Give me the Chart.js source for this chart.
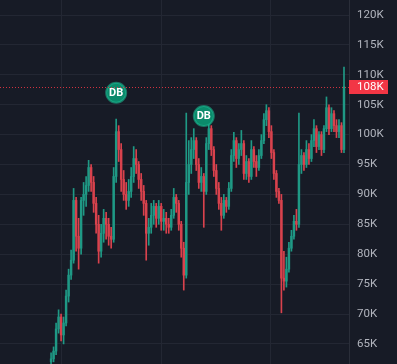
<!DOCTYPE html>
<html>
<head>
<meta charset="utf-8">
<script src="https://cdn.jsdelivr.net/npm/chart.js@4.4.1/dist/chart.umd.min.js"></script>
<style>
  html, body { margin: 0; padding: 0; background: #171b26; }
  #wrap { width: 397px; height: 364px; position: relative; }
</style>
</head>
<body>
<div id="wrap"><canvas id="priceChart"></canvas></div>
<script>
// candle values in thousands (K)
const opens = [
  62.0, 62.5, 63.8, 67.5, 69.5, 66.5, 68.5, 73.0, 76.5, 79.0,
  89.0, 83.0, 81.0, 89.0, 90.0, 91.5, 94.5, 92.0, 88.5, 85.0,
  80.5, 83.5, 86.0, 85.0, 83.0, 82.5, 93.0, 100.5, 97.5, 92.5,
  90.0, 89.0, 90.5, 93.0, 96.0, 95.0, 92.5, 90.5, 88.5, 83.5,
  84.5, 86.5, 88.0, 86.0, 88.0, 85.5, 86.0, 85.0, 84.5, 86.5,
  89.5, 88.5, 85.0, 81.0, 76.5, 92.0, 95.0, 97.5, 99.0, 95.0,
  92.0, 93.0, 90.5, 98.5, 101.0, 97.5, 94.0, 91.0, 88.5, 86.5,
  89.0, 88.0, 91.0, 96.5, 99.0, 96.0, 97.5, 98.5, 93.5, 95.5,
  93.0, 97.5, 95.5, 94.5, 96.5, 99.0, 102.5, 104.0, 100.5, 97.0,
  93.5, 90.5, 89.0, 76.0, 75.5, 77.5, 81.0, 83.0, 85.5, 85.0,
  95.0, 96.5, 95.0, 97.5, 96.0, 99.0, 101.0, 98.0, 100.0, 97.5,
  101.0, 104.5, 101.0, 103.5, 101.5, 100.5, 101.5, 97.5
];
const highs = [
  63.5, 64.5, 68.5, 70.7, 70.0, 69.5, 74.0, 77.5, 80.7, 91.0,
  89.5, 86.0, 89.5, 92.0, 93.0, 95.7, 95.0, 93.0, 89.5, 86.5,
  85.0, 87.5, 87.0, 86.0, 84.5, 94.5, 102.6, 101.5, 98.5, 94.0,
  92.0, 92.5, 94.5, 98.0, 97.5, 95.5, 93.5, 91.5, 89.0, 86.0,
  88.5, 89.0, 88.5, 89.0, 88.5, 87.5, 87.0, 86.0, 87.5, 91.0,
  90.0, 89.0, 85.5, 82.0, 103.6, 99.0, 99.5, 101.0, 99.5, 96.0,
  94.5, 93.5, 99.5, 102.0, 101.5, 98.0, 95.0, 92.0, 89.5, 90.0,
  89.5, 92.0, 97.5, 100.4, 99.5, 98.5, 100.7, 99.0, 96.5, 96.0,
  99.0, 98.0, 96.5, 97.5, 100.0, 103.5, 105.0, 104.5, 101.5, 97.5,
  94.0, 91.0, 90.0, 80.5, 79.5, 82.0, 84.0, 86.5, 87.5, 103.6,
  97.5, 97.0, 99.0, 98.5, 100.0, 102.5, 101.5, 100.5, 100.5, 101.5,
  106.3, 105.0, 104.5, 104.0, 102.5, 102.5, 102.0, 111.3
];
const lows = [
  61.5, 62.0, 63.2, 66.8, 65.5, 65.0, 68.0, 72.0, 75.8, 78.5,
  80.5, 77.5, 80.0, 86.5, 88.0, 90.5, 90.5, 87.0, 83.5, 78.5,
  79.5, 82.0, 82.5, 81.5, 81.0, 82.0, 92.0, 95.5, 90.5, 89.0,
  87.5, 88.0, 89.5, 92.0, 93.5, 91.0, 89.0, 86.5, 79.0, 81.5,
  83.5, 85.0, 84.5, 85.0, 84.0, 84.0, 83.5, 83.5, 84.0, 86.0,
  87.0, 84.0, 79.5, 74.0, 76.0, 90.0, 93.5, 96.0, 94.0, 91.0,
  90.5, 84.5, 90.0, 97.5, 96.5, 93.0, 90.0, 87.5, 84.0, 86.0,
  87.0, 87.5, 90.5, 95.5, 94.5, 95.0, 96.5, 92.5, 92.5, 92.0,
  92.5, 94.5, 93.0, 94.0, 96.0, 98.5, 101.5, 99.5, 96.0, 92.5,
  89.5, 88.5, 70.2, 74.0, 74.5, 77.0, 80.5, 82.5, 84.0, 84.5,
  93.5, 94.0, 94.5, 95.0, 95.5, 98.0, 97.0, 97.5, 96.5, 97.0,
  100.5, 100.0, 100.5, 100.5, 99.5, 99.5, 97.0, 97.0
];
const closes = [
  62.5, 63.8, 67.5, 69.5, 66.5, 68.5, 73.0, 76.5, 79.0, 89.0,
  83.0, 81.0, 89.0, 90.0, 91.5, 94.5, 92.0, 88.5, 85.0, 80.5,
  83.5, 86.0, 85.0, 83.0, 82.5, 93.0, 100.5, 97.5, 92.5, 90.0,
  89.0, 90.5, 93.0, 96.0, 95.0, 92.5, 90.5, 88.5, 83.5, 84.5,
  86.5, 88.0, 86.0, 88.0, 85.5, 86.0, 85.0, 84.5, 86.5, 89.5,
  88.5, 85.0, 81.0, 76.5, 92.0, 95.0, 97.5, 99.0, 95.0, 92.0,
  93.0, 90.5, 98.5, 101.0, 97.5, 94.0, 91.0, 88.5, 86.5, 89.0,
  88.0, 91.0, 96.5, 99.0, 96.0, 97.5, 98.5, 93.5, 95.5, 93.0,
  97.5, 95.5, 94.5, 96.5, 99.0, 102.5, 104.0, 100.5, 97.0, 93.5,
  90.5, 89.0, 76.0, 75.5, 77.5, 81.0, 83.0, 85.5, 85.0, 95.0,
  96.5, 95.0, 97.5, 96.0, 99.0, 101.0, 98.0, 100.0, 97.5, 101.0,
  104.5, 101.0, 103.5, 101.5, 100.5, 101.5, 97.5, 108.0
];

const yTicks = [65, 70, 75, 80, 85, 90, 95, 100, 105, 110, 115, 120];
const xGrid = [-12.4, 20.8, 67.5, 107.8];   // candle positions of the vertical grid lines
const dbIndex = [26, 61];
const dbValue = [107.0, 103.1];
const lastPrice = 108;

const GREEN = '#1f9985';
const RED = '#d9424d';
const GRID = '#232733';

const idx = opens.map((_, i) => i);
const candleColor = ctx => closes[ctx.dataIndex] >= opens[ctx.dataIndex] ? GREEN : RED;

// "DB" text on the markers, price line + label
const overlay = {
  id: 'overlay',
  afterDatasetsDraw(chart) {
    const ctx = chart.ctx;
    const meta = chart.getDatasetMeta(2);
    ctx.save();
    ctx.fillStyle = '#ffffff';
    ctx.font = 'bold 11px Roboto, sans-serif';
    ctx.textAlign = 'center';
    ctx.textBaseline = 'middle';
    meta.data.forEach(pt => ctx.fillText('DB', pt.x, pt.y + 0.5));
    ctx.restore();
  },
  afterDraw(chart) {
    const ctx = chart.ctx;
    const area = chart.chartArea;
    const y = Math.round(chart.scales.y.getPixelForValue(lastPrice)) + 0.5;
    ctx.save();
    ctx.strokeStyle = 'rgba(242,54,69,0.85)';
    ctx.lineWidth = 1;
    ctx.setLineDash([1, 2]);
    ctx.beginPath();
    ctx.moveTo(area.left, y);
    ctx.lineTo(area.right, y);
    ctx.stroke();
    ctx.setLineDash([]);
    ctx.fillStyle = '#f23645';
    ctx.fillRect(area.right, y - 7.5, 39, 14);
    ctx.fillStyle = '#ffffff';
    ctx.font = '11.5px Roboto, sans-serif';
    ctx.textAlign = 'left';
    ctx.textBaseline = 'middle';
    ctx.fillText(lastPrice + 'K', area.right + 8, y);
    ctx.restore();
  }
};

new Chart(document.getElementById('priceChart'), {
  type: 'bar',
  data: {
    datasets: [
      {
        label: 'wick',
        data: idx.map(i => ({ x: i, y: [lows[i], highs[i]] })),
        backgroundColor: candleColor,
        barThickness: 1,
        grouped: false,
        order: 2
      },
      {
        label: 'body',
        data: idx.map(i => ({ x: i, y: [opens[i], closes[i]] })),
        backgroundColor: candleColor,
        barThickness: 1.8,
        minBarLength: 1,
        grouped: false,
        order: 1
      },
      {
        type: 'scatter',
        label: 'DB',
        data: dbIndex.map((x, i) => ({ x: x, y: dbValue[i] })),
        pointRadius: 10,
        pointHoverRadius: 10,
        pointBackgroundColor: '#0b8a6b',
        pointBorderColor: 'rgba(30,190,150,0.55)',
        pointBorderWidth: 2,
        order: 0
      }
    ]
  },
  options: {
    responsive: true,
    maintainAspectRatio: false,
    animation: false,
    layout: { padding: 0, autoPadding: false },
    plugins: { legend: { display: false }, tooltip: { enabled: false } },
    scales: {
      x: {
        type: 'linear',
        min: -20.4,
        max: 119.0,
        offset: false,
        grid: { color: GRID, drawTicks: false },
        border: { display: false },
        ticks: { display: false },
        afterBuildTicks: s => { s.ticks = xGrid.map(v => ({ value: v })); },
        afterFit: s => { s.height = 0; s.paddingLeft = 0; s.paddingRight = 0; }
      },
      y: {
        position: 'right',
        min: 61.64,
        max: 122.51,
        grid: { color: GRID, drawTicks: false },
        border: { display: true, color: '#2a2e39' },
        ticks: {
          color: '#b2b5be',
          padding: 8,
          font: { family: 'Roboto, sans-serif', size: 11.5 },
          callback: v => v + 'K'
        },
        afterBuildTicks: s => { s.ticks = yTicks.map(v => ({ value: v })); },
        afterFit: s => { s.width = 48; s.paddingTop = 0; s.paddingBottom = 0; }
      }
    }
  },
  plugins: [overlay]
});
</script>
</body>
</html>
